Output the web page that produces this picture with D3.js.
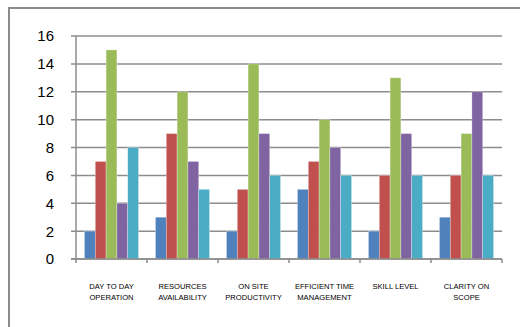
<!DOCTYPE html>
<html>
<head>
<meta charset="utf-8">
<script src="https://cdn.jsdelivr.net/npm/d3@7"></script>
<style>
    body { margin: 0; background: #fff; }
    svg { display: block; }
</style>
</head>
<body>
<svg id="canvas" width="520" height="327"></svg>
<script>
// chart data
var categories = [
    ["DAY TO DAY", "OPERATION"],
    ["RESOURCES", "AVAILABILITY"],
    ["ON SITE", "PRODUCTIVITY"],
    ["EFFICIENT TIME", "MANAGEMENT"],
    ["SKILL LEVEL"],
    ["CLARITY ON", "SCOPE"]
]
var series1 = [2, 3, 2, 5, 2, 3]
var series2 = [7, 9, 5, 7, 6, 6]
var series3 = [15, 12, 14, 10, 13, 9]
var series4 = [4, 7, 9, 8, 9, 12]
var series5 = [8, 5, 6, 6, 6, 6]
var yTicks = [0, 2, 4, 6, 8, 10, 12, 14, 16]
var colors = ["#4F81BD", "#C0504D", "#9BBB59", "#8064A2", "#4BACC6"]

var allSeries = [series1, series2, series3, series4, series5]

var svg = d3.select("#canvas")

// outer chart frame (runs off the picture at right and bottom)
svg.append("rect")
    .attr("x", 9)
    .attr("y", 8)
    .attr("width", 540)
    .attr("height", 340)
    .attr("fill", "none")
    .attr("stroke", "#8c8c8c")
    .attr("stroke-width", 2)

var plotLeft = 76, plotRight = 502, plotTop = 36, plotBottom = 259

var x0 = d3.scaleBand()
    .domain(d3.range(categories.length))
    .range([plotLeft, plotRight])
    .padding(0)

var x1 = d3.scaleBand()
    .domain(d3.range(allSeries.length))
    .range([0, x0.bandwidth()])
    .paddingInner(0)
    .paddingOuter(0.78)

var y = d3.scaleLinear()
    .domain([0, 16])
    .range([plotBottom, plotTop])

// gridlines
svg.append("g")
    .selectAll("line")
    .data(yTicks)
    .enter()
        .append("line")
        .attr("x1", plotLeft - 5)
        .attr("x2", plotRight)
        .attr("y1", function(d){ return y(d) })
        .attr("y2", function(d){ return y(d) })
        .attr("stroke", "#8c8c8c")
        .attr("stroke-width", 1.5)

// y axis line
svg.append("line")
    .attr("x1", plotLeft).attr("x2", plotLeft)
    .attr("y1", plotTop).attr("y2", plotBottom)
    .attr("stroke", "#8c8c8c")
    .attr("stroke-width", 1.5)

// y labels
svg.append("g")
    .selectAll("text")
    .data(yTicks)
    .enter()
        .append("text")
        .attr("x", 54)
        .attr("y", function(d){ return y(d) })
        .attr("dy", "0.36em")
        .attr("text-anchor", "end")
        .attr("font-family", "Liberation Sans, Arial, sans-serif")
        .attr("font-size", 15)
        .attr("fill", "#000")
        .text(function(d){ return d })

// bars
var groups = svg.append("g")
    .selectAll("g")
    .data(categories)
    .enter()
        .append("g")
        .attr("transform", function(d, i){ return "translate(" + x0(i) + ",0)" })

groups.selectAll("rect")
    .data(function(d, i){ return allSeries.map(function(s, k){ return {k: k, v: s[i]} }) })
    .enter()
        .append("rect")
        .attr("x", function(d){ return x1(d.k) })
        .attr("width", x1.bandwidth())
        .attr("y", function(d){ return y(d.v) })
        .attr("height", function(d){ return y(0) - y(d.v) })
        .attr("fill", function(d){ return colors[d.k] })
        .attr("stroke", "#fff")
        .attr("stroke-opacity", 0.5)
        .attr("stroke-width", 0.6)

// x axis baseline + ticks
svg.append("line")
    .attr("x1", plotLeft - 5).attr("x2", plotRight)
    .attr("y1", plotBottom).attr("y2", plotBottom)
    .attr("stroke", "#8c8c8c")
    .attr("stroke-width", 1.5)

var boundaries = d3.range(categories.length + 1).map(function(i){ return plotLeft + i * x0.step() })
svg.append("g")
    .selectAll("line")
    .data(boundaries)
    .enter()
        .append("line")
        .attr("x1", function(d){ return d })
        .attr("x2", function(d){ return d })
        .attr("y1", plotBottom)
        .attr("y2", plotBottom + 4)
        .attr("stroke", "#8c8c8c")
        .attr("stroke-width", 1.5)

// category labels
var labels = svg.append("g")
    .selectAll("text")
    .data(categories)
    .enter()
        .append("text")
        .attr("x", function(d, i){ return x0(i) + x0.bandwidth() / 2 })
        .attr("y", 289)
        .attr("text-anchor", "middle")
        .attr("font-family", "Liberation Sans, Arial, sans-serif")
        .attr("font-size", 7.6)
        .attr("fill", "#000")

labels.selectAll("tspan")
    .data(function(d){ return d })
    .enter()
        .append("tspan")
        .attr("x", function(){ return d3.select(this.parentNode).attr("x") })
        .attr("dy", function(d, i){ return i == 0 ? 0 : 11 })
        .text(function(d){ return d })
</script>
</body>
</html>
